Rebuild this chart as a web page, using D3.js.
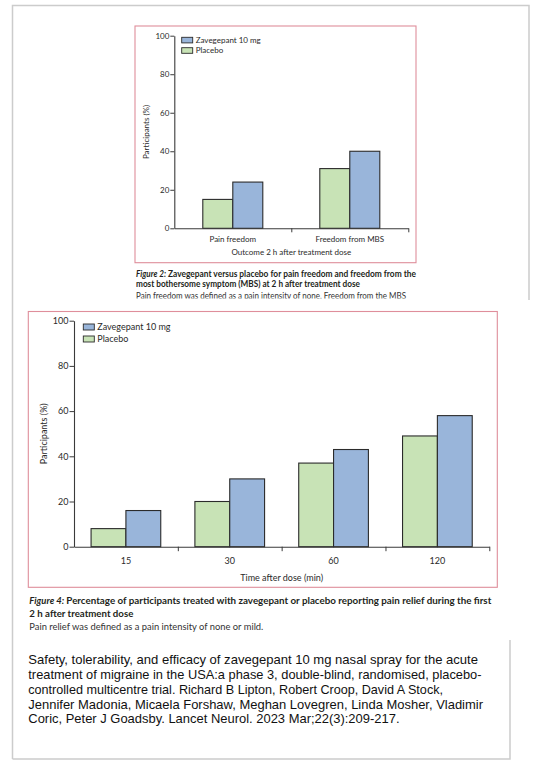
<!DOCTYPE html>
<html>
<head>
<meta charset="utf-8">
<script src="https://cdn.jsdelivr.net/npm/d3@7"></script>
<style>
  html, body { margin: 0; padding: 0; background: #fff; }
  svg { display: block; }
</style>
</head>
<body>
<svg id="chart" width="542" height="777"></svg>
<script>
// ---------------- DATA ----------------
const seriesNames = ["Zavegepant 10 mg", "Placebo"];
const fig2Categories = ["Pain freedom", "Freedom from MBS"];
const fig2Zavegepant = [24, 40];
const fig2Placebo = [15, 31];
const fig4Categories = ["15", "30", "60", "120"];
const fig4Zavegepant = [16, 30, 43, 58];
const fig4Placebo = [8, 20, 37, 49];
const yTickValues = [0, 20, 40, 60, 80, 100];

const fig2Title = "Outcome 2 h after treatment dose";
const fig4Title = "Time after dose (min)";
const yTitle = "Participants (%)";
const fig2Caption = ["Figure 2:", "Zavegepant versus placebo for pain freedom and freedom from the",
  "most bothersome symptom (MBS) at 2 h after treatment dose",
  "Pain freedom was defined as a pain intensity of none. Freedom from the MBS"];
const fig4Caption = ["Figure 4:", "Percentage of participants treated with zavegepant or placebo reporting pain relief during the first",
  "2 h after treatment dose",
  "Pain relief was defined as a pain intensity of none or mild."];
const citation = [
  "Safety, tolerability, and efficacy of zavegepant 10 mg nasal spray for the acute",
  "treatment of migraine in the USA:a phase 3, double-blind, randomised, placebo-",
  "controlled multicentre trial. Richard B Lipton, Robert Croop, David A Stock,",
  "Jennifer Madonia, Micaela Forshaw, Meghan Lovegren, Linda Mosher, Vladimir",
  "Coric, Peter J Goadsby. Lancet Neurol. 2023 Mar;22(3):209-217."
];

// ---------------- STYLE ----------------
const GREEN = "#c8e3b6";
const BLUE = "#99b5da";
const BAR_STROKE = "#2b2b2b";
const AXIS = "#3a3a3a";
const TXT = "#2a2a2a";
const PINK = "#df8e9b";
const FRAME = "#cccccc";
const CH_FONT = "Lato, 'DejaVu Sans Condensed', 'Open Sans', sans-serif";

const svg = d3.select("#chart");
const defs = svg.append("defs");

// Outer gray frame
const frame = svg.append("g").attr("fill", "none").attr("stroke", FRAME).attr("stroke-width", 1.5);
frame.append("path").attr("d", "M12.5,759 V5.5 H529 V300");
frame.append("path").attr("d", "M12.5,759 H510 V640");

function fitText(sel, w) {
  return sel.attr("textLength", w).attr("lengthAdjust", "spacingAndGlyphs");
}

function drawFigure(cfg) {
  const g = svg.append("g");
  // pink box
  g.append("rect")
    .attr("x", cfg.box[0]).attr("y", cfg.box[1])
    .attr("width", cfg.box[2] - cfg.box[0]).attr("height", cfg.box[3] - cfg.box[1])
    .attr("fill", "#fff").attr("stroke", PINK).attr("stroke-width", 1.1);

  const y = d3.scaleLinear().domain([0, 100]).range([cfg.y0, cfg.y100]);
  const x0 = d3.scaleBand().domain(cfg.categories).range([cfg.xL, cfg.xR]).padding(0);
  const x1 = d3.scaleBand().domain(["Placebo", "Zavegepant"]).range([0, x0.bandwidth()])
    .paddingInner(0).paddingOuter(cfg.outerPad);

  // bars
  const rows = cfg.categories.map((c, i) => ({ c, placebo: cfg.placebo[i], zav: cfg.zav[i] }));
  const grp = g.append("g").selectAll("g").data(rows).join("g")
    .attr("transform", d => `translate(${x0(d.c)},0)`);
  grp.selectAll("rect")
    .data(d => [{ k: "Placebo", v: d.placebo }, { k: "Zavegepant", v: d.zav }])
    .join("rect")
    .attr("x", d => x1(d.k))
    .attr("width", x1.bandwidth())
    .attr("y", d => y(d.v))
    .attr("height", d => y(0) - y(d.v))
    .attr("fill", d => d.k === "Placebo" ? GREEN : BLUE)
    .attr("stroke", BAR_STROKE).attr("stroke-width", 1.1);

  // y axis
  const ya = g.append("g").attr("transform", `translate(${cfg.xL},0)`)
    .call(d3.axisLeft(y).tickValues(yTickValues).tickSize(cfg.tick).tickPadding(1).tickSizeOuter(0));
  ya.select(".domain").attr("stroke", AXIS).attr("stroke-width", 1.1);
  ya.selectAll(".tick line").attr("stroke", AXIS).attr("stroke-width", 1);
  ya.selectAll(".tick text").attr("fill", TXT).attr("font-family", CH_FONT).attr("font-size", cfg.tickFont);

  // x axis (band boundaries)
  const xb = d3.scaleLinear().domain([0, cfg.categories.length]).range([cfg.xL, cfg.xR]);
  const xa = g.append("g").attr("transform", `translate(0,${cfg.y0})`)
    .call(d3.axisBottom(xb).tickValues(d3.range(1, cfg.categories.length + 1)).tickFormat("").tickSize(cfg.tick).tickSizeOuter(0));
  xa.select(".domain").attr("stroke", AXIS).attr("stroke-width", 1.1);
  xa.selectAll(".tick line").attr("stroke", AXIS).attr("stroke-width", 1);

  // category labels
  g.append("g").selectAll("text").data(cfg.categories).join("text")
    .attr("x", d => x0(d) + x0.bandwidth() / 2)
    .attr("y", cfg.catY)
    .attr("text-anchor", "middle")
    .attr("font-family", CH_FONT).attr("font-size", cfg.labFont).attr("fill", TXT)
    .text(d => d);

  // x title
  g.append("text").attr("x", (cfg.xL + cfg.xR) / 2).attr("y", cfg.titleY)
    .attr("text-anchor", "middle").attr("font-family", CH_FONT).attr("font-size", cfg.labFont)
    .attr("fill", TXT).text(cfg.xTitle);

  // y title
  g.append("text")
    .attr("transform", `translate(${cfg.yTitleX},${(cfg.y0 + cfg.y100) / 2}) rotate(-90)`)
    .attr("text-anchor", "middle").attr("dy", "0.35em")
    .attr("font-family", CH_FONT).attr("font-size", cfg.labFont).attr("fill", TXT)
    .text(yTitle);

  // legend
  const lg = g.append("g");
  const legendItems = [{ n: seriesNames[0], c: BLUE }, { n: seriesNames[1], c: GREEN }];
  legendItems.forEach((it, i) => {
    const yy = cfg.legY + i * cfg.legStep;
    lg.append("rect").attr("x", cfg.legX).attr("y", yy).attr("width", cfg.legW).attr("height", cfg.legH)
      .attr("fill", it.c).attr("stroke", BAR_STROKE).attr("stroke-width", 0.9);
    lg.append("text").attr("x", cfg.legX + cfg.legW + 3).attr("y", yy + cfg.legH)
      .attr("font-family", CH_FONT).attr("font-size", cfg.labFont).attr("fill", TXT).text(it.n);
  });

  // caption
  const cap = cfg.caption;
  const boldText = (x, yy, w, s, italic) => fitText(g.append("text").attr("x", x).attr("y", yy)
    .attr("font-family", CH_FONT).attr("font-size", cfg.capFont).attr("font-weight", "bold")
    .attr("font-style", italic ? "italic" : "normal").attr("fill", "#231f20").text(s), w);
  boldText(cfg.capX, cfg.capY[0], cfg.figLabW, cap[0], true);
  boldText(cfg.capX + cfg.figLabW + cfg.gap, cfg.capY[0], cfg.capW[0] - cfg.figLabW - cfg.gap, cap[1], false);
  boldText(cfg.capX, cfg.capY[1], cfg.capW[1], cap[2], false);
  const t3 = fitText(g.append("text").attr("x", cfg.capX).attr("y", cfg.capY[2])
    .attr("font-family", CH_FONT).attr("font-size", cfg.capFont).attr("fill", "#333").text(cap[3]), cfg.capW[2]);
  if (cfg.clipY) {
    const id = "clip" + cfg.id;
    defs.append("clipPath").attr("id", id)
      .append("rect").attr("x", 0).attr("y", 0).attr("width", 542).attr("height", cfg.clipY);
    t3.attr("clip-path", `url(#${id})`);
  }
}

drawFigure({
  id: 2,
  box: [135, 26, 416, 262.7],
  categories: fig2Categories, zav: fig2Zavegepant, placebo: fig2Placebo,
  xL: 174.3, xR: 408.3, y0: 228.3, y100: 35.7, outerPad: 0.95,
  tick: 4, tickFont: 8, labFont: 8,
  catY: 241.5, titleY: 255, xTitle: fig2Title, yTitleX: 146,
  legX: 181.7, legY: 37.3, legW: 11, legH: 5.6, legStep: 10.4,
  caption: fig2Caption, capX: 136, capY: [276.7, 287.3, 299.2], capFont: 8.6,
  figLabW: 30, gap: 2, capW: [280, 224, 270], clipY: 298.4
});

drawFigure({
  id: 4,
  box: [28.3, 311.5, 497.3, 587.3],
  categories: fig4Categories, zav: fig4Zavegepant, placebo: fig4Placebo,
  xL: 74, xR: 489.3, y0: 546.7, y100: 320.7, outerPad: 0.49,
  tick: 4.5, tickFont: 9, labFont: 9,
  catY: 564, titleY: 580.5, xTitle: fig4Title, yTitleX: 44,
  legX: 83.3, legY: 324, legW: 11, legH: 6, legStep: 12,
  caption: fig4Caption, capX: 29.3, capY: [604, 616.7, 630.3], capFont: 9.6,
  figLabW: 35, gap: 2, capW: [462, 104, 234], clipY: null
});

// citation
const citeEnds = [478, 481.5, 443, 483, 399.5];
svg.append("g").selectAll("text").data(citation).join("text")
  .attr("x", 28.3)
  .attr("y", (d, i) => 664.3 + i * 14.75)
  .attr("font-family", "'Liberation Sans', Arial, sans-serif")
  .attr("font-size", 13)
  .attr("fill", "#111")
  .attr("textLength", (d, i) => citeEnds[i] - 28.3)
  .attr("lengthAdjust", "spacingAndGlyphs")
  .text(d => d);
</script>
</body>
</html>
